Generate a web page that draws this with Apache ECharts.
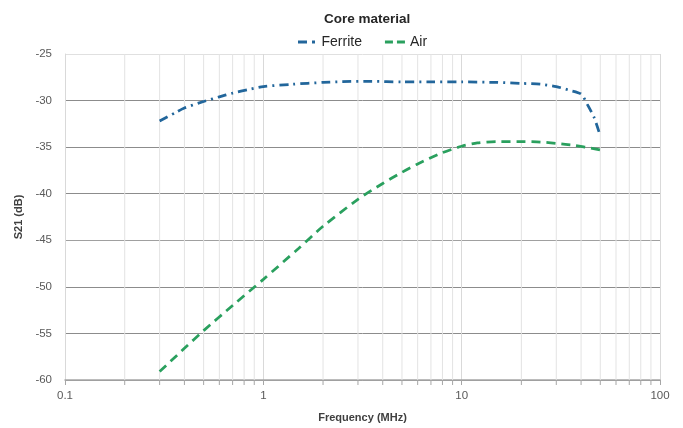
<!DOCTYPE html>
<html><head><meta charset="utf-8">
<script src="https://cdn.jsdelivr.net/npm/echarts@6/dist/echarts.min.js"></script>
<style>html,body{margin:0;padding:0;background:#fff}#c{width:683px;height:428px}</style>
</head><body><div id="c"></div>
<script>
var ferriteFreq = [0.3, 0.36, 0.4, 0.5, 0.6, 0.7, 0.85, 1, 1.4, 2, 2.5, 3.5, 5, 7, 10, 15, 20, 25, 30, 35, 40, 43, 46.5, 50];
var ferriteS21  = [-32.2, -31.3, -30.8, -30.1, -29.6, -29.2, -28.8, -28.5, -28.25, -28.05, -27.97, -27.93, -28.0, -28.0, -28.0, -28.05, -28.15, -28.25, -28.5, -28.9, -29.3, -30.4, -31.8, -33.8];
var airFreq = [0.3, 0.4, 0.5, 0.7, 1, 1.5, 2, 3, 4, 5, 6, 8, 10, 12, 15, 20, 25, 30, 37, 42, 50];
var airS21  = [-59.1, -56.6, -54.7, -52.0, -49.2, -45.9, -43.5, -40.6, -38.9, -37.7, -36.8, -35.6, -34.9, -34.55, -34.4, -34.4, -34.45, -34.6, -34.8, -35.0, -35.3];
var minorFreq = [0.2,0.3,0.4,0.5,0.6,0.7,0.8,0.9, 2,3,4,5,6,7,8,9, 20,30,40,50,60,70,80,90];
var yTicks = { min: -60, max: -25, interval: 5 };
var legendTitle = 'Core material';
var seriesNames = ['Ferrite', 'Air'];
var xName = 'Frequency (MHz)';
var yName = 'S21 (dB)';

function zip(a, b) { return a.map(function (v, i) { return [v, b[i]]; }); }

var font = 'Liberation Sans';
var cFerrite = '#22669b', cAir = '#2aa05e';
var chart = echarts.init(document.getElementById('c'), null, { renderer: 'canvas' });
chart.setOption({
  backgroundColor: '#fff',
  animation: false,
  title: {
    text: legendTitle, left: 319, top: 7,
    textStyle: { fontFamily: font, fontSize: 13.5, fontWeight: 'bold', color: '#262626' }
  },
  legend: {
    top: 30, left: 293, itemWidth: 20, itemHeight: 3, itemGap: 23,
    textStyle: { fontFamily: font, fontSize: 14, color: '#262626' },
    data: [
      { name: seriesNames[0], icon: 'path://M0,0h9v3H0zM14,0h3v3h-3z' },
      { name: seriesNames[1], icon: 'path://M0,0h8v3H0zM12,0h8v3h-8z' }
    ]
  },
  grid: { left: 65, right: 23, top: 54, bottom: 48, containLabel: false },
  xAxis: {
    type: 'log', logBase: 10, min: 0.1, max: 100,
    name: xName, nameLocation: 'middle', nameGap: 32,
    nameTextStyle: { fontFamily: font, fontSize: 11, fontWeight: 'bold', color: '#404040' },
    axisLine: { show: true, lineStyle: { color: '#a6a6a6', width: 1.5 } },
    axisTick: { show: true, length: 5, inside: false, lineStyle: { color: '#a6a6a6' } },
    axisLabel: { fontFamily: font, fontSize: 11.5, color: '#595959', margin: 10 },
    splitLine: { show: true, lineStyle: { color: '#d9d9d9', width: 1 } }
  },
  yAxis: {
    type: 'value', min: yTicks.min, max: yTicks.max, interval: yTicks.interval,
    name: yName, nameLocation: 'middle', nameGap: 35, nameRotate: 90,
    nameTextStyle: { fontFamily: font, fontSize: 11, fontWeight: 'bold', color: '#404040' },
    axisLine: { show: true, lineStyle: { color: '#d9d9d9' } },
    axisTick: { show: false },
    axisLabel: { fontFamily: font, fontSize: 11.5, color: '#595959', margin: 13 },
    splitLine: { show: true, lineStyle: { color: ['#8c8c8c','#8c8c8c','#8c8c8c','#a0a0a0','#8c8c8c','#8c8c8c','#8c8c8c','#e0e0e0'], width: 1 } }
  },
  series: [
    {
      name: 'gridminor', type: 'custom', silent: true, z: 1,
      data: minorFreq.map(function (f) { return [f, yTicks.min]; }),
      renderItem: function (params, api) {
        var bottom = api.coord([api.value(0), yTicks.min]);
        var top = api.coord([api.value(0), yTicks.max]);
        return {
          type: 'group', children: [
            { type: 'line', shape: { x1: bottom[0], y1: bottom[1], x2: top[0], y2: top[1] },
              style: { stroke: '#e3e3e3', lineWidth: 1 } },
            { type: 'line', shape: { x1: bottom[0], y1: bottom[1], x2: bottom[0], y2: bottom[1] + 5 },
              style: { stroke: '#a6a6a6', lineWidth: 1 } }
          ]
        };
      }
    },
    {
      name: seriesNames[0], type: 'line', data: zip(ferriteFreq, ferriteS21),
      smooth: 0.25, showSymbol: false, symbol: 'none', z: 5,
      itemStyle: { color: cFerrite },
      lineStyle: { color: cFerrite, width: 2.75, type: [9, 5, 2, 5] }
    },
    {
      name: seriesNames[1], type: 'line', data: zip(airFreq, airS21),
      smooth: 0.25, showSymbol: false, symbol: 'none', z: 5,
      itemStyle: { color: cAir },
      lineStyle: { color: cAir, width: 2.75, type: [9, 6] }
    }
  ]
});
</script>
</body></html>
